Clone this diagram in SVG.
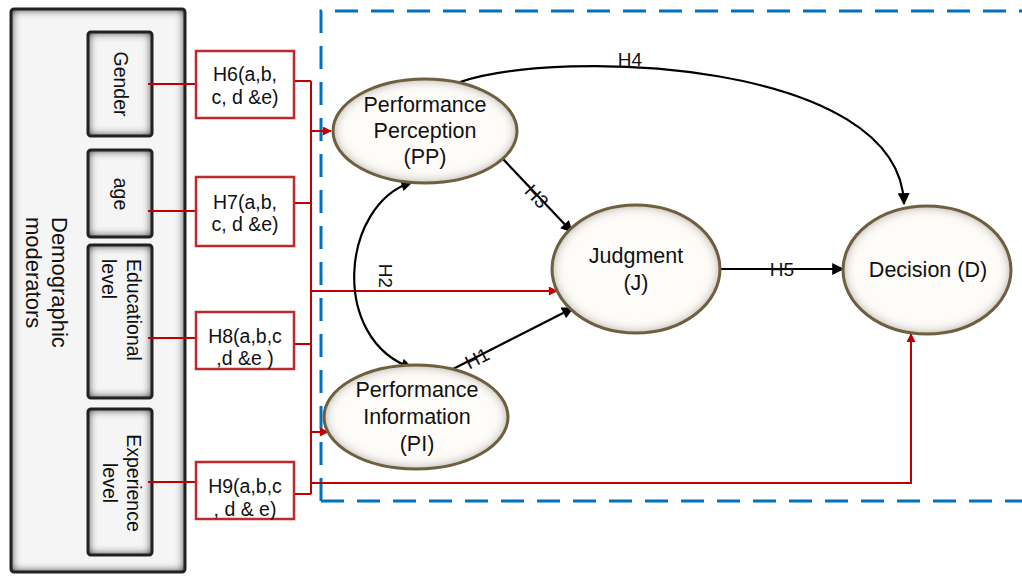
<svg xmlns="http://www.w3.org/2000/svg" width="1022" height="577" viewBox="0 0 1022 577">
<style>
text{font-family:"Liberation Sans",Arial,sans-serif;fill:#111}
.lbl{font-size:19.5px}
.nd{font-size:21.5px;text-anchor:middle}
.hl{font-size:19px;text-anchor:middle}
.red{fill:none;stroke:#C00000;stroke-width:2}
.blk{fill:none;stroke:#000;stroke-width:2.2}
.box{fill:#f5f5f5;filter:url(#inset)}
.boxs{fill:none;stroke:#222;stroke-width:3}
.hb{fill:#fff;stroke:#C0282D;stroke-width:2.5}
.el{fill:#fefcf8;filter:url(#insetE)}
.els{fill:none;stroke:#6e5f3e;stroke-width:3}
</style>
<defs>
<filter id="inset" x="-10%" y="-10%" width="120%" height="120%">
<feFlood flood-color="#000" flood-opacity="1"/>
<feComposite in2="SourceAlpha" operator="out"/>
<feGaussianBlur stdDeviation="5"/>
<feComposite in2="SourceAlpha" operator="in" result="sh"/>
<feMerge><feMergeNode in="SourceGraphic"/><feMergeNode in="sh"/><feMergeNode in="sh"/></feMerge>
</filter>
<filter id="insetE" x="-10%" y="-10%" width="120%" height="120%">
<feFlood flood-color="#4a4232" flood-opacity="0.85"/>
<feComposite in2="SourceAlpha" operator="out"/>
<feGaussianBlur stdDeviation="6"/>
<feComposite in2="SourceAlpha" operator="in" result="sh"/>
<feMerge><feMergeNode in="SourceGraphic"/><feMergeNode in="sh"/></feMerge>
</filter>
<marker id="ab" viewBox="0 0 10 10" refX="9" refY="5" markerWidth="13" markerHeight="12" markerUnits="userSpaceOnUse" orient="auto-start-reverse"><path d="M0,0 L10,5 L0,10 z" fill="#000"/></marker>
<marker id="ar" viewBox="0 0 10 10" refX="9" refY="5" markerWidth="11" markerHeight="9" markerUnits="userSpaceOnUse" orient="auto"><path d="M0,0 L10,5 L0,10 z" fill="#C00000"/></marker>
</defs>
<rect width="1022" height="577" fill="#fff"/>

<g id="frame">
<path d="M321,501 V11 H1024 M321,501 H1024" fill="none" stroke="#0070C0" stroke-width="3" stroke-dasharray="23 13"/>
</g>

<g id="demographic">
<rect class="box" x="11" y="9" width="174" height="563" rx="3"/>
<rect class="boxs" x="11" y="9" width="174" height="563" rx="3"/>
<g transform="translate(59,217) rotate(90)"><text x="0" y="7" style="font-size:22px">Demographic</text></g>
<g transform="translate(33,217) rotate(90)"><text x="0" y="7" style="font-size:22px">moderators</text></g>
</g>

<g id="gender">
<rect class="box" x="88" y="32" width="64" height="104" rx="3"/>
<rect class="boxs" x="88" y="32" width="64" height="104" rx="3"/>
<g transform="translate(121,84) rotate(90)"><text class="lbl" x="0" y="7" text-anchor="middle">Gender</text></g>
</g>
<g id="age">
<rect class="box" x="88" y="150" width="64" height="87" rx="3"/>
<rect class="boxs" x="88" y="150" width="64" height="87" rx="3"/>
<g transform="translate(121,194) rotate(90)"><text class="lbl" x="0" y="7" text-anchor="middle">age</text></g>
</g>
<g id="educational">
<rect class="box" x="88" y="245" width="64" height="153" rx="3"/>
<rect class="boxs" x="88" y="245" width="64" height="153" rx="3"/>
<g transform="translate(134,259) rotate(90)"><text class="lbl" x="0" y="7">Educational</text></g>
<g transform="translate(109,259) rotate(90)"><text class="lbl" x="0" y="7">level</text></g>
</g>
<g id="experience">
<rect class="box" x="88" y="409" width="64" height="146" rx="3"/>
<rect class="boxs" x="88" y="409" width="64" height="146" rx="3"/>
<g transform="translate(134,483) rotate(90)"><text class="lbl" x="0" y="7" text-anchor="middle">Experience</text></g>
<g transform="translate(110,483) rotate(90)"><text class="lbl" x="0" y="7" text-anchor="middle">level</text></g>
</g>

<g id="connectors">
<path class="red" d="M148,84 H196 M148,211 H196 M148,338 H196 M148,482 H196"/>
<path class="red" d="M294,81 H311 M294,203 H311 M294,344 H311 M294,494 H311 M311,81 V494"/>
<path class="red" d="M311,131 H331" marker-end="url(#ar)"/>
<path class="red" d="M311,291 H557" marker-end="url(#ar)"/>
<path class="red" d="M311,432 H328" marker-end="url(#ar)"/>
<path class="red" d="M311,483 H911 V334" marker-end="url(#ar)"/>
<path class="blk" d="M460,82 C560,48 900,60 904,204" marker-end="url(#ab)"/>
<path class="blk" d="M503,159 L572,232" marker-end="url(#ab)"/>
<path class="blk" d="M453,369 L573,308" marker-end="url(#ab)"/>
<path class="blk" d="M720,269 L843,269" marker-end="url(#ab)"/>
<path class="blk" d="M412,182 C340,205 330,340 412,368" marker-start="url(#ab)" marker-end="url(#ab)"/>
<text class="hl" x="630" y="66">H4</text>
<g transform="translate(537,196) rotate(47)"><text class="hl" x="0" y="7">H3</text></g>
<g transform="translate(477,358) rotate(-27)"><text class="hl" x="0" y="7">H1</text></g>
<text class="hl" x="782" y="276">H5</text>
<g transform="translate(386,276) rotate(90)"><text class="hl" x="0" y="7">H2</text></g>
</g>

<g id="h6">
<rect class="hb" x="196" y="51" width="98" height="67"/>
<text class="lbl" x="245" y="81" text-anchor="middle">H6(a,b,</text>
<text class="lbl" x="245" y="104" text-anchor="middle">c, d &amp;e)</text>
</g>
<g id="h7">
<rect class="hb" x="196" y="177" width="98" height="69"/>
<text class="lbl" x="245" y="209" text-anchor="middle">H7(a,b,</text>
<text class="lbl" x="245" y="231" text-anchor="middle">c, d &amp;e)</text>
</g>
<g id="h8">
<rect class="hb" x="196" y="312" width="98" height="57"/>
<text class="lbl" x="245" y="343" text-anchor="middle">H8(a,b,c</text>
<text class="lbl" x="245" y="365" text-anchor="middle">,d &amp;e )</text>
</g>
<g id="h9">
<rect class="hb" x="196" y="462" width="98" height="57"/>
<text class="lbl" x="245" y="493" text-anchor="middle">H9(a,b,c</text>
<text class="lbl" x="245" y="516" text-anchor="middle">, d &amp; e)</text>
</g>

<g id="pp">
<ellipse class="el" cx="425" cy="131" rx="92" ry="52"/>
<ellipse class="els" cx="425" cy="131" rx="92" ry="52"/>
<text class="nd" x="425" y="112">Performance</text>
<text class="nd" x="425" y="138">Perception</text>
<text class="nd" x="425" y="164">(PP)</text>
</g>
<g id="pi">
<ellipse class="el" cx="416" cy="417" rx="92" ry="52"/>
<ellipse class="els" cx="416" cy="417" rx="92" ry="52"/>
<text class="nd" x="417" y="397">Performance</text>
<text class="nd" x="417" y="424">Information</text>
<text class="nd" x="417" y="451">(PI)</text>
</g>
<g id="j">
<ellipse class="el" cx="636" cy="269" rx="84" ry="64"/>
<ellipse class="els" cx="636" cy="269" rx="84" ry="64"/>
<text class="nd" x="636" y="263">Judgment</text>
<text class="nd" x="636" y="290">(J)</text>
</g>
<g id="d">
<ellipse class="el" cx="927" cy="270" rx="84" ry="64"/>
<ellipse class="els" cx="927" cy="270" rx="84" ry="64"/>
<text class="nd" x="928" y="277">Decision (D)</text>
</g>
</svg>
